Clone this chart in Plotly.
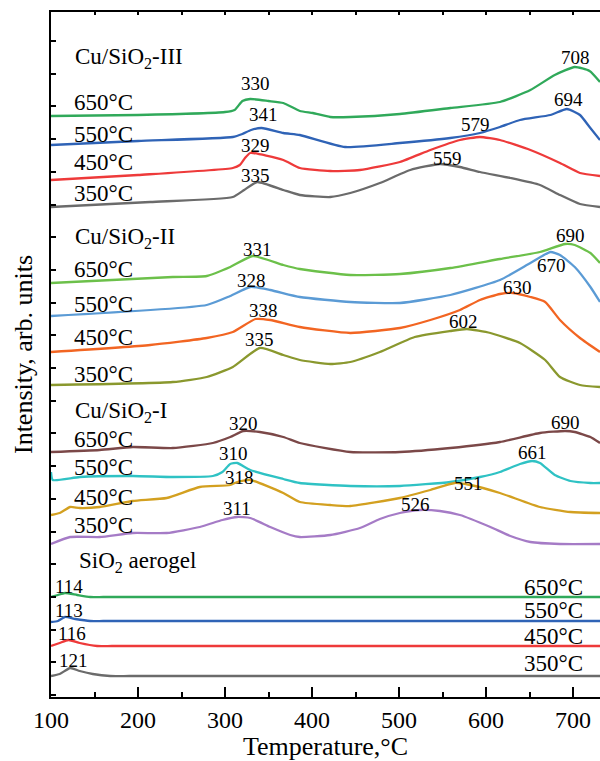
import plotly.graph_objects as go

# ---------------- data (Temperature, °C  /  intensity in arbitrary, offset units) ----------------
# Cu/SiO2-III
T_III_650 = [100, 200, 300, 311, 320, 329, 350, 367, 386, 401, 421, 444, 501, 559, 616, 651, 679, 702, 719, 731]
I_III_650 = [581, 582, 585, 587, 596, 598, 596, 594, 586, 584, 580, 580, 583, 589, 595, 607, 622, 630, 626, 615]
T_III_550 = [100, 200, 309, 320, 330, 342, 367, 386, 438, 501, 559, 593, 616, 639, 674, 693, 708, 719, 731]
I_III_550 = [552, 556, 560, 563, 567, 569, 564, 562, 550, 554, 559, 564, 570, 577, 582, 588, 582, 570, 557]
T_III_450 = [100, 200, 309, 317, 323, 329, 367, 386, 421, 455, 501, 536, 570, 593, 616, 651, 685, 708, 731]
I_III_450 = [517, 522, 529, 532, 539, 544, 537, 529, 526, 527, 535, 547, 557, 560, 557, 547, 534, 524, 521]
T_III_350 = [100, 214, 309, 322, 337, 367, 386, 421, 444, 478, 513, 547, 570, 593, 628, 662, 685, 708, 731]
I_III_350 = [490, 495, 500, 507, 515, 507, 502, 500, 504, 514, 527, 533, 530, 525, 519, 512, 502, 493, 490]
# Cu/SiO2-II
T_II_650 = [100, 240, 279, 306, 332, 367, 386, 444, 501, 559, 616, 662, 691, 702, 720, 731]
I_II_650 = [414, 420, 421, 430, 441, 432, 428, 422, 423, 429, 438, 445, 453, 452, 444, 434]
T_II_550 = [100, 279, 306, 329, 352, 386, 444, 501, 559, 616, 651, 674, 685, 702, 720, 731]
I_II_550 = [381, 392, 401, 410, 407, 400, 395, 394, 402, 417, 434, 445, 442, 430, 410, 395]
T_II_450 = [100, 214, 279, 309, 335, 352, 386, 444, 501, 536, 570, 593, 616, 631, 651, 668, 685, 708, 731]
I_II_450 = [345, 352, 359, 365, 378, 377, 370, 364, 369, 377, 387, 397, 403, 404, 400, 395, 377, 359, 345]
T_II_350 = [100, 240, 279, 309, 340, 367, 386, 421, 444, 478, 518, 559, 578, 605, 639, 668, 685, 708, 731]
I_II_350 = [312, 315, 320, 330, 349, 342, 337, 333, 335, 345, 360, 366, 368, 364, 354, 337, 320, 312, 310]
# Cu/SiO2-I
T_I_650 = [100, 156, 194, 240, 286, 306, 321, 340, 367, 386, 444, 501, 559, 616, 662, 691, 702, 720, 731]
I_I_650 = [245, 247, 250, 249, 254, 260, 266, 265, 260, 254, 245, 245, 249, 255, 264, 266, 265, 260, 254]
T_I_550 = [100, 102, 133, 194, 240, 286, 297, 306, 314, 329, 367, 386, 444, 501, 559, 593, 616, 639, 653, 662, 679, 697, 720, 731]
I_I_550 = [225, 217, 220, 221, 220, 221, 225, 233, 234, 227, 218, 214, 211, 211, 215, 220, 225, 233, 236, 234, 222, 216, 214, 214]
T_I_450 = [100, 110, 122, 133, 156, 194, 233, 271, 306, 314, 329, 367, 386, 421, 444, 501, 536, 564, 582, 616, 662, 697, 731]
I_I_450 = [182, 184, 190, 189, 190, 196, 199, 210, 212, 215, 217, 204, 195, 192, 191, 199, 207, 214, 212, 204, 190, 185, 184]
T_I_350 = [100, 122, 156, 194, 233, 271, 297, 314, 329, 352, 375, 386, 421, 455, 478, 501, 524, 547, 570, 605, 628, 651, 685, 731]
I_I_350 = [153, 160, 160, 164, 164, 170, 177, 180, 179, 170, 162, 160, 162, 169, 178, 184, 187, 186, 182, 170, 161, 155, 153, 153]
# SiO2 aerogel
T_A_650 = [100, 108, 116, 130, 145, 160, 300, 500, 731]
I_A_650 = [100, 102, 104, 102, 100, 100, 100, 100, 100]
T_A_550 = [100, 108, 116, 128, 145, 160, 300, 500, 731]
I_A_550 = [75, 76, 80, 78, 76, 76, 76, 76, 76]
T_A_450 = [100, 110, 120, 133, 153, 170, 300, 500, 731]
I_A_450 = [51, 54, 57, 54, 51, 51, 51, 51, 51]
T_A_350 = [100, 110, 122, 133, 148, 168, 190, 300, 500, 731]
I_A_350 = [21, 23, 29, 26, 23, 21, 21, 21, 21, 21]

# peak labels (text) and their anchor points
peak_text = ["330", "341", "329", "335", "708", "694", "579", "559",
             "331", "328", "338", "335", "690", "670", "630", "602",
             "320", "310", "318", "311", "690", "661", "551", "526",
             "114", "113", "116", "121"]
peak_T = [334.5, 344.8, 335.6, 335.6, 703.4, 694.3, 587.4, 555.2,
          337.9, 331.0, 343.7, 340.2, 696.6, 674.7, 635.6, 573.6,
          320.7, 310.3, 316.1, 313.8, 690.8, 652.9, 579.3, 519.5,
          120.7, 120.7, 124.1, 125.3]
peak_I = [614, 583, 552, 522, 640, 598, 573, 539,
          448, 417, 387, 358, 462, 432, 410, 376,
          274, 244, 220, 189, 275, 245, 214, 193,
          111, 87, 64, 37]

group_names = ["Cu/SiO<sub>2</sub>-III", "Cu/SiO<sub>2</sub>-II", "Cu/SiO<sub>2</sub>-I", "SiO<sub>2</sub> aerogel"]
group_I = [639, 459, 285, 135]
temp_names = ["650°C", "550°C", "450°C", "350°C"]
temp_I_III = [595, 563, 535, 504]
temp_I_II = [428, 393, 360, 323]
temp_I_I = [258, 230, 200, 172]
temp_I_A = [110, 87, 61, 34]

x_ticks = [100, 200, 300, 400, 500, 600, 700]

FONT = "Liberation Serif"

curves = [
    (T_III_650, I_III_650, "#30a95a"), (T_III_550, I_III_550, "#2f63b6"),
    (T_III_450, I_III_450, "#ee3a3a"), (T_III_350, I_III_350, "#6b6b6b"),
    (T_II_650, I_II_650, "#6cc04a"), (T_II_550, I_II_550, "#5b9bd5"),
    (T_II_450, I_II_450, "#f26522"), (T_II_350, I_II_350, "#8a982e"),
    (T_I_650, I_I_650, "#7b4848"), (T_I_550, I_I_550, "#2fc2c4"),
    (T_I_450, I_I_450, "#d3a020"), (T_I_350, I_I_350, "#a57bc6"),
    (T_A_650, I_A_650, "#30a95a"), (T_A_550, I_A_550, "#2f63b6"),
    (T_A_450, I_A_450, "#ee3a3a"), (T_A_350, I_A_350, "#6b6b6b"),
]

fig = go.Figure()
for xs, ys, c in curves:
    fig.add_trace(go.Scatter(x=xs, y=ys, mode="lines",
                             line=dict(color=c, width=2.3, shape="spline", smoothing=0.5),
                             showlegend=False, hoverinfo="skip"))
# invisible trace to anchor the top (mirror) axis
fig.add_trace(go.Scatter(x=[100], y=[0], xaxis="x2", mode="markers",
                         marker=dict(opacity=0), showlegend=False, hoverinfo="skip"))

ann = []
for t, x, y in zip(peak_text, peak_T, peak_I):
    ann.append(dict(x=x, y=y, text=t, showarrow=False, xanchor="center", yanchor="middle",
                    font=dict(family=FONT, size=19, color="black")))
for name, y in zip(group_names, group_I):
    ann.append(dict(x=125.3 if "Cu" in name else 129.5, y=y, text=name, showarrow=False,
                    xanchor="left", yanchor="middle", font=dict(family=FONT, size=23, color="black")))
for lst in (temp_I_III, temp_I_II, temp_I_I):
    for name, y in zip(temp_names, lst):
        ann.append(dict(x=124.5, y=y, text=name, showarrow=False, xanchor="left", yanchor="middle",
                        font=dict(family=FONT, size=23, color="black")))
for name, y in zip(temp_names, temp_I_A):
    ann.append(dict(x=713.8, y=y, text=name, showarrow=False, xanchor="right", yanchor="middle",
                    font=dict(family=FONT, size=23, color="black")))

fig.update_layout(
    width=600, height=761,
    margin=dict(l=51, r=0, t=12, b=64),
    plot_bgcolor="white", paper_bgcolor="white",
    font=dict(family=FONT, color="black"),
    annotations=ann,
    xaxis=dict(range=[100, 731], tickvals=x_ticks, ticktext=[str(v) for v in x_ticks],
               ticks="inside", ticklen=10, tickwidth=2, tickcolor="black",
               minor=dict(dtick=50, tick0=100, ticks="inside", ticklen=5, tickwidth=2, tickcolor="black"),
               showline=True, linewidth=2, linecolor="black", showgrid=False, zeroline=False,
               automargin=False,
               tickfont=dict(family=FONT, size=24, color="black"),
               title=dict(text="Temperature,°C", font=dict(family=FONT, size=26, color="black"), standoff=6)),
    xaxis2=dict(range=[100, 731], overlaying="x", side="top", anchor="y", matches="x",
                tick0=100, dtick=50, ticks="inside", ticklen=3, tickwidth=1.5, tickcolor="black",
                showticklabels=False, showline=True, linewidth=2, linecolor="black",
                showgrid=False, zeroline=False, automargin=False),
    yaxis=dict(range=[0, 685], tick0=2, dtick=32.7, ticks="inside", ticklen=5, tickwidth=1.5,
               tickcolor="black", showticklabels=False, showline=True, linewidth=2, linecolor="black",
               showgrid=False, zeroline=False, automargin=False,
               title=dict(text="Intensity, arb. units", font=dict(family=FONT, size=26, color="black"),
                          standoff=9)),
)

fig.write_html("out.html", config={"displayModeBar": False},
               post_script="document.body.style.margin='0';document.body.style.padding='0';"
                           "document.documentElement.style.overflow='hidden';")
